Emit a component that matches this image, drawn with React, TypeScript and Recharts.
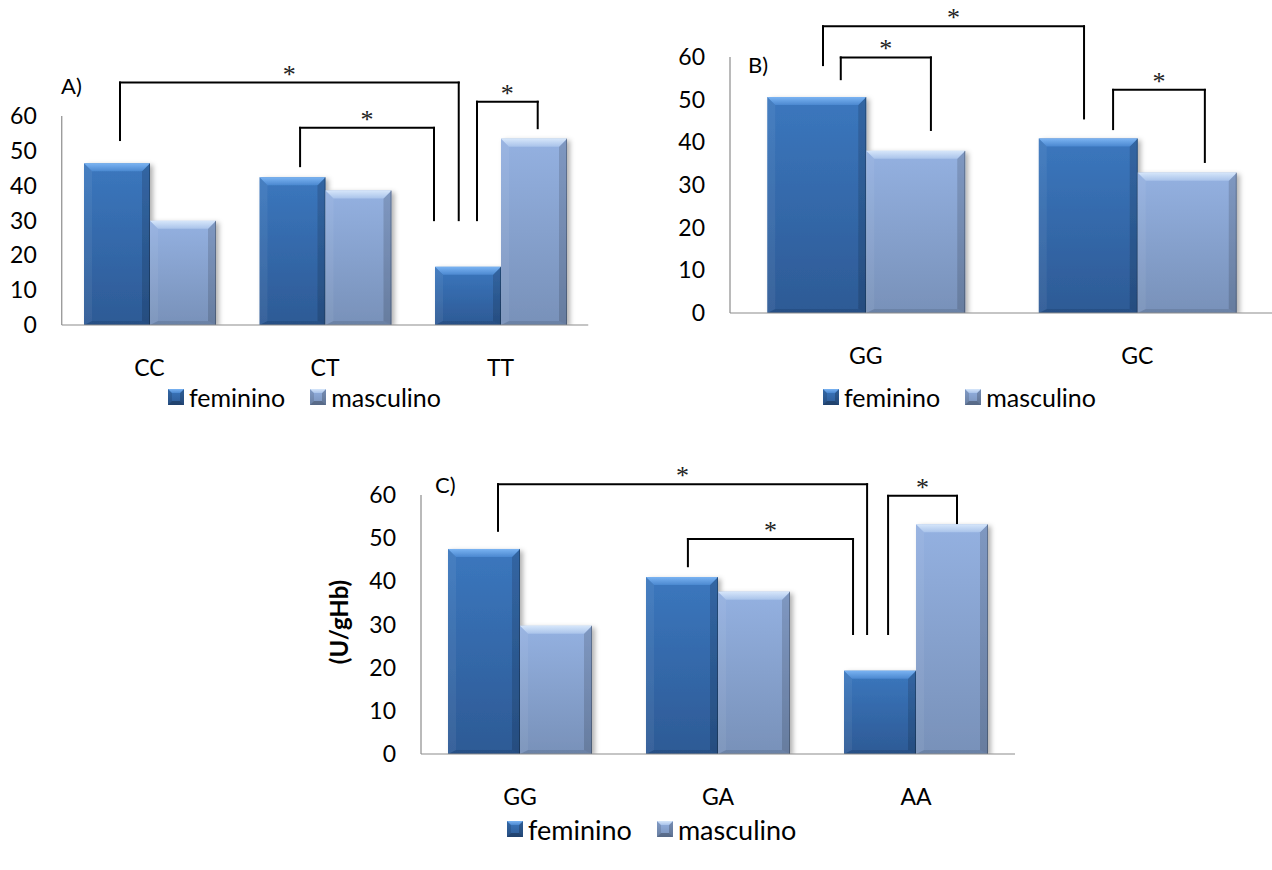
import React from 'react';
import { BarChart, Bar, XAxis, YAxis, ReferenceLine } from 'recharts';

const FONT = 'Lato, "Open Sans", sans-serif';
const STAR_FONT = '"Liberation Serif", "DejaVu Serif", serif';

// A) CC / CT / TT genotypes
const categoriesA = ['CC', 'CT', 'TT'];
const femininoA = [46.4, 42.4, 16.7];
const masculinoA = [29.9, 38.6, 53.5];

// B) GG / GC genotypes
const categoriesB = ['GG', 'GC'];
const femininoB = [50.6, 40.9];
const masculinoB = [38.0, 32.9];

// C) GG / GA / AA genotypes
const categoriesC = ['GG', 'GA', 'AA'];
const femininoC = [47.5, 41.0, 19.3];
const masculinoC = [29.7, 37.6, 53.2];

const yTicks = [0, 10, 20, 30, 40, 50, 60];
const seriesNames = ['feminino', 'masculino'];

// Significance brackets: [left x, right x, left foot y, top y, right foot y]
// x in category units (0 = left edge of the first category), y in U/gHb
const bracketsA = [
  [0.332, 2.262, 53.1, 69.6, 30.1],
  [1.358, 2.121, 45.6, 56.6, 30.1],
  [2.366, 2.712, 30.1, 64.1, 56.5],
];
const bracketsB = [
  [0.3425, 1.304, 58.1, 67.2, 45.6],
  [0.408, 0.74, 54.8, 59.9, 42.9],
  [1.411, 1.749, 43.1, 52.3, 35.4],
];
const bracketsC = [
  [0.389, 2.253, 51.7, 62.5, 27.8],
  [1.348, 2.182, 43.5, 49.8, 27.8],
  [2.359, 2.707, 27.8, 59.8, 53.5],
];

const PALETTE: Record<string, any> = {
  fem: { face: 'url(#femFace)', top: 'url(#femTop)' },
  masc: { face: 'url(#mascFace)', top: 'url(#mascTop)' },
};

function SharedDefs() {
  return (
    <svg width={0} height={0} style={{ position: 'absolute' }}>
      <defs>
        <linearGradient id="femFace" x1="0" y1="0" x2="0" y2="1">
          <stop offset="0%" stopColor="#3b77be" />
          <stop offset="100%" stopColor="#2d5a95" />
        </linearGradient>
        <linearGradient id="femTop" x1="0" y1="0" x2="0" y2="1">
          <stop offset="0%" stopColor="#7ab3f2" />
          <stop offset="100%" stopColor="#4b88d0" />
        </linearGradient>
        <linearGradient id="mascFace" x1="0" y1="0" x2="0" y2="1">
          <stop offset="0%" stopColor="#94b1e1" />
          <stop offset="100%" stopColor="#7891b9" />
        </linearGradient>
        <linearGradient id="mascTop" x1="0" y1="0" x2="0" y2="1">
          <stop offset="0%" stopColor="#d6e6fa" />
          <stop offset="100%" stopColor="#a9c3ea" />
        </linearGradient>
        <filter id="barShadow" x="-20%" y="-20%" width="150%" height="150%">
          <feDropShadow dx="3" dy="2" stdDeviation="2.5" floodColor="#000" floodOpacity="0.3" />
        </filter>
      </defs>
    </svg>
  );
}

// Bevelled bar: a face with a light top chamfer, soft left, darker right and bottom edges
function bevelShape(kind: string) {
  return (props: any) => {
    const { x, y, width, height } = props;
    if (!(height > 0) || !(width > 0)) return <g />;
    const p = PALETTE[kind];
    const b = Math.max(0, Math.min(8, width / 4, height / 2));
    const bb = Math.min(4, b);
    const x2 = x + width;
    const y2 = y + height;
    return (
      <g filter="url(#barShadow)">
        <rect x={x} y={y} width={width} height={height} fill={p.face} />
        <polygon points={`${x},${y} ${x + b},${y + b} ${x + b},${y2 - bb} ${x},${y2}`} fill="#ffffff" fillOpacity={0.06} />
        <polygon points={`${x2},${y} ${x2 - b},${y + b} ${x2 - b},${y2 - bb} ${x2},${y2}`} fill="#000000" fillOpacity={0.14} />
        <polygon points={`${x},${y2} ${x + b},${y2 - bb} ${x2 - b},${y2 - bb} ${x2},${y2}`} fill="#000000" fillOpacity={0.1} />
        <polygon points={`${x},${y} ${x2},${y} ${x2 - b},${y + b} ${x + b},${y + b}`} fill={p.top} />
        <line x1={x2 - 0.5} y1={y} x2={x2 - 0.5} y2={y2} stroke="#000" strokeOpacity={0.25} />
      </g>
    );
  };
}

function LegendIcon({ kind }: { kind: string }) {
  const p = PALETTE[kind];
  const s = 16;
  const b = 4;
  return (
    <svg width={s} height={s} style={{ display: 'block' }}>
      <rect x={0} y={0} width={s} height={s} fill={p.face} />
      <polygon points={`0,0 ${b},${b} ${b},${s - b} 0,${s}`} fill="#000" fillOpacity={0.12} />
      <polygon points={`${s},0 ${s - b},${b} ${s - b},${s - b} ${s},${s}`} fill="#000" fillOpacity={0.2} />
      <polygon points={`0,${s} ${b},${s - b} ${s - b},${s - b} ${s},${s}`} fill="#000" fillOpacity={0.28} />
      <polygon points={`0,0 ${s},0 ${s - b},${b} ${b},${b}`} fill={p.top} />
    </svg>
  );
}

function LegendRow({ left, centerY, size = 25 }: { left: number; centerY: number; size?: number }) {
  return (
    <div
      style={{
        position: 'absolute',
        left,
        top: centerY - 15,
        height: 30,
        display: 'flex',
        alignItems: 'center',
        fontFamily: FONT,
        fontSize: size,
        color: '#000',
        whiteSpace: 'nowrap',
      }}
    >
      <LegendIcon kind="fem" />
      <span style={{ marginLeft: 5 }}>{seriesNames[0]}</span>
      <span style={{ marginLeft: 25 }}>
        <LegendIcon kind="masc" />
      </span>
      <span style={{ marginLeft: 5 }}>{seriesNames[1]}</span>
    </div>
  );
}

function CategoryTick(props: any) {
  const { x, y, payload } = props;
  return (
    <text x={x} y={y + 51} textAnchor="middle" fontFamily={FONT} fontSize={23} fill="#000">
      {payload.value}
    </text>
  );
}

function ValueTick(props: any) {
  const { x, y, payload } = props;
  return (
    <text x={x - 25} y={y + 8} textAnchor="end" fontFamily={FONT} fontSize={23} fill="#000">
      {payload.value}
    </text>
  );
}

function bracketLines(brackets: number[][], prefix: string) {
  const common = { xAxisId: 'pos', stroke: '#000', strokeWidth: 2, strokeLinecap: 'square', ifOverflow: 'visible' } as any;
  return brackets.flatMap(([xl, xr, yl, yt, yr], i) => [
    <ReferenceLine key={`${prefix}${i}a`} {...common} segment={[{ x: xl, y: yl }, { x: xl, y: yt }]} />,
    <ReferenceLine
      key={`${prefix}${i}b`}
      {...common}
      segment={[{ x: xl, y: yt }, { x: xr, y: yt }]}
      label={{ value: '*', position: 'top', offset: 0, fontSize: 26, fontFamily: STAR_FONT, fill: '#222' }}
    />,
    <ReferenceLine key={`${prefix}${i}c`} {...common} segment={[{ x: xr, y: yt }, { x: xr, y: yr }]} />,
  ]);
}

type PanelProps = {
  left: number;
  top: number;
  width: number;
  height: number;
  margin: { top: number; right: number; bottom: number; left: number };
  yWidth: number;
  gap: number;
  categories: string[];
  fem: number[];
  masc: number[];
  brackets: number[][];
  prefix: string;
};

function Panel(p: PanelProps) {
  // "slot" is the category's centre in category units, used by the bracket axis
  const data = p.categories.map((c, i) => ({ genotipo: c, slot: i + 0.5, feminino: p.fem[i], masculino: p.masc[i] }));
  return (
    <div style={{ position: 'absolute', left: p.left, top: p.top }}>
      <BarChart
        width={p.width}
        height={p.height}
        data={data}
        margin={p.margin}
        barCategoryGap={p.gap}
        barGap={0}
        style={{ overflow: 'visible' }}
      >
        <XAxis
          dataKey="genotipo"
          axisLine={{ stroke: '#8c8c8c', strokeWidth: 1.2 }}
          tickLine={false}
          tickSize={0}
          tickMargin={0}
          tick={<CategoryTick />}
          height={30}
          interval={0}
        />
        <XAxis
          xAxisId="pos"
          dataKey="slot"
          type="number"
          domain={[0, p.categories.length]}
          allowDataOverflow
          hide
        />
        <YAxis
          domain={[0, 60]}
          ticks={yTicks}
          width={p.yWidth}
          allowDataOverflow
          axisLine={{ stroke: '#8c8c8c', strokeWidth: 1.2 }}
          tickLine={false}
          tickSize={0}
          tickMargin={0}
          tick={<ValueTick />}
          interval={0}
        />
        <Bar dataKey="feminino" shape={bevelShape('fem')} isAnimationActive={false} />
        <Bar dataKey="masculino" shape={bevelShape('masc')} isAnimationActive={false} />
        {bracketLines(p.brackets, p.prefix)}
      </BarChart>
    </div>
  );
}

const panelLabel = (text: string, left: number, centerY: number) => (
  <div
    style={{
      position: 'absolute',
      left,
      top: centerY - 13,
      height: 26,
      lineHeight: '26px',
      fontFamily: FONT,
      fontSize: 22,
      color: '#000',
    }}
  >
    {text}
  </div>
);

export default function App() {
  return (
    <div
      style={{
        position: 'absolute',
        left: 0,
        top: 0,
        width: 1272,
        height: 870,
        overflow: 'hidden',
        background: '#ffffff',
      }}
    >
      <SharedDefs />
      <Panel
        left={0}
        top={0}
        width={600}
        height={420}
        margin={{ top: 116, right: 600 - 588.25, bottom: 65, left: 0 }}
        yWidth={61.75}
        gap={22.25}
        categories={categoriesA}
        fem={femininoA}
        masc={masculinoA}
        brackets={bracketsA}
        prefix="a"
      />
      <Panel
        left={670}
        top={0}
        width={610}
        height={420}
        margin={{ top: 57, right: 7, bottom: 77, left: 0 }}
        yWidth={60}
        gap={37.25}
        categories={categoriesB}
        fem={femininoB}
        masc={masculinoB}
        brackets={bracketsB}
        prefix="b"
      />
      <Panel
        left={360}
        top={440}
        width={670}
        height={400}
        margin={{ top: 55, right: 670 - 655, bottom: 56, left: 0 }}
        yWidth={61}
        gap={27}
        categories={categoriesC}
        fem={femininoC}
        masc={masculinoC}
        brackets={bracketsC}
        prefix="c"
      />
      <div
        style={{
          position: 'absolute',
          left: 338,
          top: 622,
          transform: 'translate(-50%, -50%) rotate(-90deg)',
          fontFamily: FONT,
          fontWeight: 'bold',
          fontSize: 24,
          color: '#000',
          whiteSpace: 'nowrap',
        }}
      >
        (U/gHb)
      </div>
      {panelLabel('A)', 61, 86)}
      {panelLabel('B)', 748, 65)}
      {panelLabel('C)', 435, 485)}
      <LegendRow left={168} centerY={397} />
      <LegendRow left={823} centerY={397} />
      <LegendRow left={507} centerY={829} size={27} />
    </div>
  );
}
